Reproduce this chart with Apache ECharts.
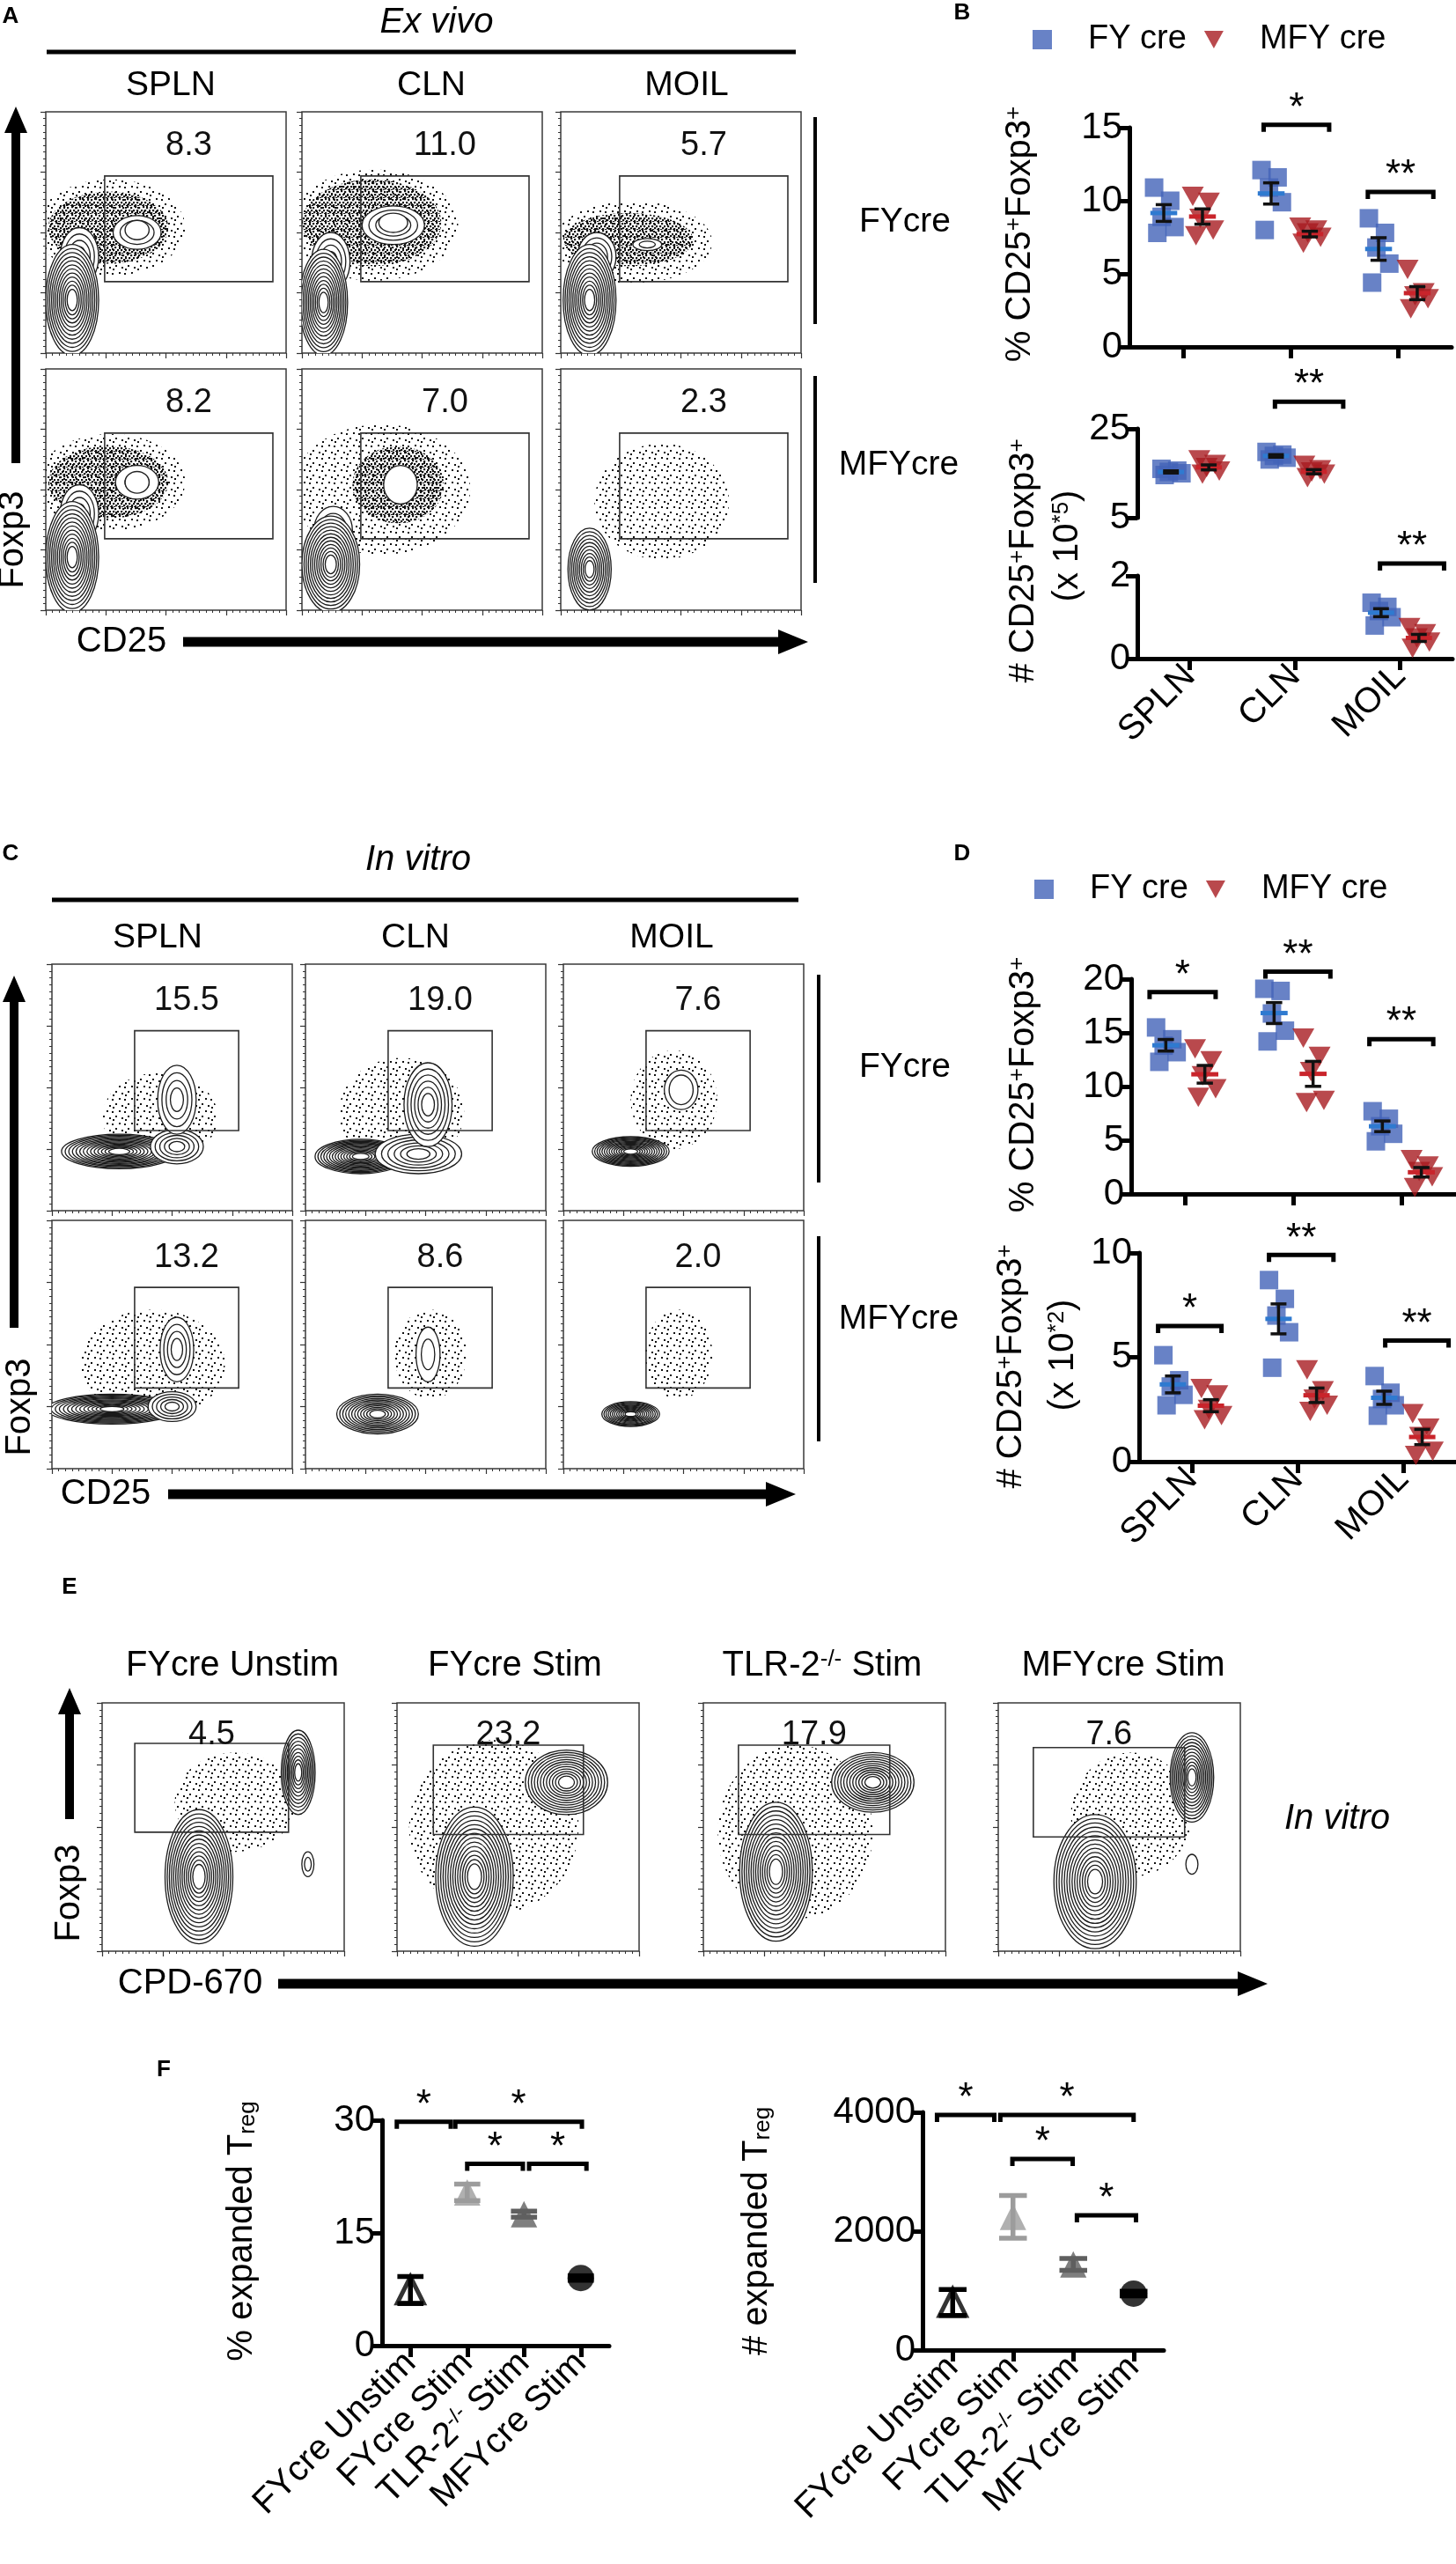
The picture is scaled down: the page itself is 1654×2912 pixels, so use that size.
<!DOCTYPE html>
<html>
<head>
<meta charset="utf-8">
<script src="https://cdn.jsdelivr.net/npm/echarts@6/dist/echarts.min.js"></script>
<style>
  html, body { margin: 0; padding: 0; background: #fff; }
  #fig { width: 1654px; height: 2912px; }
</style>
</head>
<body>
<div id="fig"></div>
<script>
// ---------- data ----------
const tissues = ['SPLN', 'CLN', 'MOIL'];
const groupNames = ['FY cre', 'MFY cre'];
const stimGroups = ['FYcre Unstim', 'FYcre Stim', 'TLR-2-/- Stim', 'MFYcre Stim'];

// B: ex vivo, % CD25+Foxp3+ (5 mice per tissue)
const exVivoPctFY = [[10.9, 10.0, 8.9, 8.2, 7.8], [12.1, 11.6, 10.9, 9.9, 8.0], [8.8, 7.8, 6.8, 5.7, 4.4]];
const exVivoPctMFY = [[10.3, 9.9, 8.8, 8.0, 7.6], [8.2, 8.0, 7.8, 7.5, 7.1], [5.3, 3.7, 3.5, 3.3, 2.6]];
// B: ex vivo, # CD25+Foxp3+ (x 10^5)
const exVivoNumFY = [[16.0, 15.6, 15.3, 15.0, 14.6], [19.8, 19.2, 18.9, 18.5, 18.1], [1.35, 1.25, 1.15, 1.0, 0.8]];
const exVivoNumMFY = [[18.0, 17.0, 16.3, 15.5, 14.8], [16.8, 15.8, 15.3, 14.8, 14.0], [0.75, 0.6, 0.5, 0.4, 0.25]];
// D: in vitro, % CD25+Foxp3+
const inVitroPctFY = [[15.5, 14.4, 13.8, 13.2, 12.3], [19.1, 18.9, 16.8, 15.2, 14.2], [7.7, 7.0, 6.3, 5.6, 4.9]];
const inVitroPctMFY = [[13.5, 12.4, 11.0, 9.8, 9.0], [14.5, 12.8, 11.4, 8.7, 8.5], [3.2, 2.6, 2.1, 1.6, 0.6]];
// D: in vitro, # CD25+Foxp3+ (x 10^2)
const inVitroNumFY = [[5.1, 3.9, 3.6, 3.2, 2.7], [8.7, 7.8, 7.0, 6.2, 4.5], [4.1, 3.3, 3.0, 2.7, 2.2]];
const inVitroNumMFY = [[3.5, 3.2, 2.5, 2.2, 2.0], [4.4, 3.4, 3.0, 2.7, 2.4], [2.3, 1.6, 1.2, 0.5, 0.3]];
// F: expanded Treg, mean and SEM
const expandedPctMean = [7.4, 20.4, 17.5, 9.0];
const expandedPctSem = [1.8, 1.1, 0.4, 0.3];
const expandedNumMean = [800, 2240, 1440, 950];
const expandedNumSem = [220, 360, 100, 40];

// significance brackets: [x from, x to, y, label] in axis units
const sigExVivoPct = [[0.75, 1.36, 15.2, '*'], [1.72, 2.33, 10.6, '**']];
const sigExVivoNumHigh = [[0.81, 1.46, 31.1, '**']];
const sigExVivoNumLow = [[1.81, 2.42, 2.3, '**']];
const sigInVitroPct = [[-0.33, 0.28, 18.8, '*'], [0.74, 1.34, 20.7, '**'], [1.70, 2.29, 14.4, '**']];
const sigInVitroNum = [[-0.32, 0.28, 6.5, '*'], [0.73, 1.34, 9.9, '**'], [1.83, 2.43, 5.8, '**']];
const sigExpandedPct = [[-0.24, 0.71, 29.8, '*'], [0.79, 3.02, 29.8, '*'], [1.0, 1.98, 24.2, '*'], [2.09, 3.1, 24.2, '*']];
const sigExpandedNum = [[-0.26, 0.69, 3955, '*'], [0.79, 3.0, 3955, '*'], [0.99, 1.99, 3214, '*'], [2.06, 3.04, 2266, '*']];

// flow plots: gate frequencies
const exVivoFreqFY = [8.3, 11.0, 5.7];
const exVivoFreqMFY = [8.2, 7.0, 2.3];
const inVitroFreqFY = [15.5, 19.0, 7.6];
const inVitroFreqMFY = [13.2, 8.6, 2.0];
const expansionFreq = [4.5, 23.2, 17.9, 7.6];

// gates [x1, y1, x2, y2] on 0-100 display scale
const exVivoGate = [24.5, 29.6, 94.5, 73.4];
const inVitroGate = [34.4, 32.5, 77.7, 73.0];
const expansionGates = [[13.5, 47.9, 77, 83.7], [15, 47, 77, 83], [14.5, 47, 77, 83], [14.5, 46, 77, 82]];

// populations [cx, cy, rx, ry, kind, contour levels]
const CONTOUR = 0, DENSE = 1, SPARSE = 2, HOLE = 3;
const exVivoFYPops = [
  [[27, 52, 31, 20, SPARSE, 0], [26, 52, 25, 15, DENSE, 0], [38, 50, 10, 7, CONTOUR, 3], [38, 51, 5, 4, HOLE, 0], [14, 40, 8, 12, CONTOUR, 4], [11, 22, 11, 23, CONTOUR, 12]],
  [[30, 53, 35, 23, SPARSE, 0], [29, 54, 29, 18, DENSE, 0], [38, 53, 13, 8, CONTOUR, 4], [38, 54, 6, 4, HOLE, 0], [12, 38, 8, 12, CONTOUR, 4], [9, 21, 10, 22, CONTOUR, 12]],
  [[30, 46, 33, 17, SPARSE, 0], [28, 47, 27, 11, DENSE, 0], [36, 45, 6, 2.5, CONTOUR, 2], [15, 40, 8, 10, CONTOUR, 4], [12, 22, 11, 23, CONTOUR, 12]]
];
const exVivoMFYPops = [
  [[27, 53, 31, 20, SPARSE, 0], [26, 53, 25, 15, DENSE, 0], [38, 53, 9, 7, CONTOUR, 2], [38, 53, 5, 4.5, HOLE, 0], [14, 40, 8, 12, CONTOUR, 4], [11, 22, 11, 23, CONTOUR, 12]],
  [[33, 50, 37, 27, SPARSE, 0], [40, 52, 19, 16, DENSE, 0], [41, 52, 7, 8, HOLE, 0], [13, 33, 8, 10, CONTOUR, 3], [12, 19, 12, 20, CONTOUR, 12]],
  [[42, 45, 28, 24, SPARSE, 0], [12, 17, 9, 17, CONTOUR, 10]]
];
const inVitroFYPops = [
  [[45, 38, 24, 18, SPARSE, 0], [28, 24, 24, 7, CONTOUR, 14], [52, 26, 11, 7, CONTOUR, 5], [52, 45, 8, 14, CONTOUR, 4]],
  [[40, 40, 26, 22, SPARSE, 0], [23, 22, 19, 7, CONTOUR, 14], [47, 23, 18, 8, CONTOUR, 6], [51, 43, 10, 17, CONTOUR, 6]],
  [[46, 45, 18, 20, SPARSE, 0], [28, 24, 16, 6, CONTOUR, 14], [49, 49, 7, 8, CONTOUR, 1], [49, 49, 5, 6, HOLE, 0]]
];
const inVitroMFYPops = [
  [[42, 42, 30, 22, SPARSE, 0], [25, 24, 27, 6, CONTOUR, 14], [50, 25, 10, 6, CONTOUR, 5], [52, 48, 7, 13, CONTOUR, 4]],
  [[52, 46, 15, 18, SPARSE, 0], [30, 22, 17, 8, CONTOUR, 12], [51, 46, 5, 11, CONTOUR, 2]],
  [[48, 46, 14, 18, SPARSE, 0], [28, 22, 12, 5, CONTOUR, 12]]
];
const expansionPops = [
  [[55, 60, 25, 20, SPARSE, 0], [81, 72, 7, 17, CONTOUR, 10], [40, 30, 14, 27, CONTOUR, 14], [85, 35, 2.5, 5, CONTOUR, 2]],
  [[40, 50, 35, 35, SPARSE, 0], [70, 68, 17, 13, CONTOUR, 12], [32, 30, 16, 28, CONTOUR, 14]],
  [[38, 48, 32, 35, SPARSE, 0], [70, 68, 17, 12, CONTOUR, 12], [30, 32, 15, 28, CONTOUR, 14]],
  [[55, 55, 25, 25, SPARSE, 0], [80, 70, 9, 18, CONTOUR, 12], [40, 28, 17, 27, CONTOUR, 14], [80, 35, 2.5, 4, CONTOUR, 1]]
];

// ---------- styles ----------
const FONT = '"Liberation Sans", Arial, Helvetica, sans-serif';
const FY_COLOR = '#4263b8', FY_MEAN = '#2f7ad0';
const MFY_COLOR = '#a81b21', MFY_MEAN = '#c9242b';
const JITTER = [-0.09, 0.06, -0.02, 0.1, -0.06];
const GROUP_SHIFT = [-0.18, 0.18];

function speckle(size, dot, dots) {
  const c = document.createElement('canvas');
  c.width = size; c.height = size;
  const g = c.getContext('2d');
  g.fillStyle = '#111';
  dots.forEach(d => g.fillRect(d[0], d[1], dot, dot));
  return c;
}
const denseTile = speckle(9, 2.2, [[0, 0], [4, 1], [7, 4], [2, 4], [5, 6], [0, 7], [8, 8], [3, 8]]);
const sparseTile = speckle(14, 2, [[1, 2], [9, 1], [5, 7], [12, 9], [2, 11]]);

const mean = a => a.reduce((s, v) => s + v, 0) / a.length;
const sem = a => {
  const m = mean(a);
  return Math.sqrt(a.reduce((s, v) => s + (v - m) * (v - m), 0) / (a.length - 1) / a.length);
};

// ---------- renderers ----------
function drawPopulation(params, api) {
  const c = api.coord([api.value(0), api.value(1)]);
  const s = api.size([api.value(2), api.value(3)]);
  const kind = api.value(4), rings = api.value(5);
  const children = [];
  if (kind === DENSE || kind === SPARSE) {
    children.push({
      type: 'ellipse', shape: { cx: c[0], cy: c[1], rx: s[0], ry: s[1] },
      style: { fill: { image: kind === DENSE ? denseTile : sparseTile, repeat: 'repeat' }, stroke: null }
    });
  } else if (kind === HOLE) {
    children.push({
      type: 'ellipse', shape: { cx: c[0], cy: c[1], rx: s[0], ry: s[1] },
      style: { fill: '#fff', stroke: '#222', lineWidth: 1.4 }
    });
  } else {
    for (let i = 0; i < rings; i++) {
      const f = 1 - i * 0.88 / rings;
      children.push({
        type: 'ellipse', shape: { cx: c[0], cy: c[1], rx: s[0] * f, ry: s[1] * f },
        style: { fill: i === 0 ? '#fff' : 'none', stroke: '#1a1a1a', lineWidth: 1.3 }
      });
    }
  }
  return { type: 'group', children };
}

function drawGate(params, api) {
  const p1 = api.coord([api.value(0), api.value(3)]);
  const p2 = api.coord([api.value(2), api.value(1)]);
  const lab = api.coord([(api.value(0) + api.value(2)) / 2, api.value(5)]);
  return {
    type: 'group', children: [
      { type: 'rect', shape: { x: p1[0], y: p1[1], width: p2[0] - p1[0], height: p2[1] - p1[1] },
        style: { fill: 'none', stroke: '#333', lineWidth: 1.6 } },
      { type: 'text', x: lab[0], y: lab[1],
        style: { text: api.value(4).toFixed(1), fontSize: 38, fontFamily: FONT, fill: '#111', align: 'center', verticalAlign: 'middle' } }
    ]
  };
}

function drawMeanSem(color) {
  return function (params, api) {
    const x = api.value(0), m = api.value(1), s = api.value(2);
    const pm = api.coord([x, m]), pt = api.coord([x, m + s]), pb = api.coord([x, m - s]);
    const hw = api.size([0.125, 0])[0], cw = api.size([0.075, 0])[0];
    const line = (x1, y1, x2, y2, col, w) => ({ type: 'line', shape: { x1, y1, x2, y2 }, style: { stroke: col, lineWidth: w } });
    return {
      type: 'group', children: [
        line(pm[0] - hw, pm[1], pm[0] + hw, pm[1], color, 5),
        line(pt[0], pt[1], pb[0], pb[1], '#111', 3.5),
        line(pt[0] - cw, pt[1], pt[0] + cw, pt[1], '#111', 3.5),
        line(pb[0] - cw, pb[1], pb[0] + cw, pb[1], '#111', 3.5)
      ]
    };
  };
}

function drawErrorBar(colors) {
  return function (params, api) {
    const x = api.value(0), m = api.value(1), s = api.value(2);
    const pt = api.coord([x, m + s]), pb = api.coord([x, m - s]);
    const cw = api.size([0.23, 0])[0];
    const col = colors[params.dataIndex];
    const line = (x1, y1, x2, y2) => ({ type: 'line', shape: { x1, y1, x2, y2 }, style: { stroke: col, lineWidth: 5.5 } });
    return {
      type: 'group', children: [
        line(pt[0], pt[1], pb[0], pb[1]),
        line(pt[0] - cw, pt[1], pt[0] + cw, pt[1]),
        line(pb[0] - cw, pb[1], pb[0] + cw, pb[1])
      ]
    };
  };
}

function drawBracket(sig, size) {
  return function (params, api) {
    const a = api.coord([api.value(0), api.value(2)]);
    const b = api.coord([api.value(1), api.value(2)]);
    const drop = 8;
    return {
      type: 'group', children: [
        { type: 'polyline', shape: { points: [[a[0], a[1] + drop], [a[0], a[1]], [b[0], b[1]], [b[0], b[1] + drop]] },
          style: { fill: 'none', stroke: '#000', lineWidth: 5 } },
        { type: 'text', x: (a[0] + b[0]) / 2, y: a[1] + 4,
          style: { text: sig[params.dataIndex][3], fontSize: size, fontFamily: FONT, fill: '#000', align: 'center', verticalAlign: 'bottom' } }
      ]
    };
  };
}

// ---------- option assembly ----------
const option = { animation: false, backgroundColor: '#fff', grid: [], xAxis: [], yAxis: [], series: [], graphic: [], legend: [] };

function flowAxis(gi) {
  return {
    gridIndex: gi, type: 'value', min: 0, max: 100, interval: 25,
    axisLine: { show: false },
    axisTick: { show: true, length: 6, lineStyle: { color: '#333', width: 1.2 } },
    minorTick: { show: true, splitNumber: 9, length: 3, lineStyle: { color: '#333', width: 1 } },
    axisLabel: { show: false }, splitLine: { show: false }, minorSplitLine: { show: false }
  };
}

function addFlow(box, pops, gate, freq, labelY) {
  const gi = option.grid.length;
  option.grid.push({ left: box[0], top: box[1], width: box[2], height: box[3], show: true, borderColor: '#3a3a3a', borderWidth: 1.5 });
  option.xAxis.push(flowAxis(gi));
  option.yAxis.push(flowAxis(gi));
  option.series.push({ type: 'custom', xAxisIndex: gi, yAxisIndex: gi, clip: true, silent: true, z: 2, data: pops, renderItem: drawPopulation });
  option.series.push({ type: 'custom', xAxisIndex: gi, yAxisIndex: gi, silent: true, z: 3, data: [gate.concat([freq, labelY])], renderItem: drawGate });
}

[52, 343, 637].forEach((left, c) => {
  addFlow([left, 127, 273, 274], exVivoFYPops[c], exVivoGate, exVivoFreqFY[c], 86);
  addFlow([left, 419, 273, 274], exVivoMFYPops[c], exVivoGate, exVivoFreqMFY[c], 86);
});
[59, 347, 640].forEach((left, c) => {
  addFlow([left, 1095, 273, 280], inVitroFYPops[c], inVitroGate, inVitroFreqFY[c], 85);
  addFlow([left, 1386, 273, 282], inVitroMFYPops[c], inVitroGate, inVitroFreqMFY[c], 85);
});
[116, 451, 799, 1134].forEach((left, i) => {
  addFlow([left, 1934, 275, 282], expansionPops[i], expansionGates[i], expansionFreq[i], 87);
});

const supRich = {
  n: { fontSize: 40, lineHeight: 40, fontFamily: FONT, color: '#000', verticalAlign: 'middle' },
  s: { fontSize: 24, lineHeight: 16, fontFamily: FONT, color: '#000', verticalAlign: 'top' }
};
function supLabel(name) {
  const k = name.indexOf('-/-');
  if (k < 0) return '{n|' + name + '}';
  return '{n|' + name.slice(0, k) + '}{s|-/-}{n|' + name.slice(k + 3) + '}';
}

function statY(gi, min, max, extra) {
  return Object.assign({
    gridIndex: gi, type: 'value', min, max,
    axisLine: { show: true, onZero: false, lineStyle: { color: '#000', width: 5 } },
    axisTick: { show: true, length: 13, lineStyle: { color: '#000', width: 5 } },
    axisLabel: { color: '#000', fontSize: 42, fontFamily: FONT, margin: 8, formatter: v => String(v) },
    splitLine: { show: false }
  }, extra);
}

function statX(gi, names, showAxis, showLabels) {
  const idx = names.map((n, i) => i);
  return {
    gridIndex: gi, type: 'value', min: -0.5, max: names.length - 0.5, show: showAxis,
    axisLine: { show: true, onZero: false, lineStyle: { color: '#000', width: 5 } },
    axisTick: { show: true, customValues: idx, length: 13, lineStyle: { color: '#000', width: 5 } },
    axisLabel: {
      show: showLabels, customValues: idx, rotate: 45, margin: 14, color: '#000', fontSize: 38, fontFamily: FONT,
      formatter: v => supLabel(names[Math.round(v)]), rich: supRich
    },
    splitLine: { show: false }
  };
}

function addStatGrid(box, yAx, names, showAxis, showLabels) {
  const gi = option.grid.length;
  option.grid.push({ left: box[0], top: box[1], width: box[2], height: box[3] });
  option.xAxis.push(statX(gi, names, showAxis, showLabels));
  option.yAxis.push(Object.assign(yAx, { gridIndex: gi }));
  return gi;
}

function dots(values, g) {
  const out = [];
  values.forEach((arr, c) => arr.forEach((v, j) => out.push([c + GROUP_SHIFT[g] + JITTER[j], v])));
  return out;
}
function summary(values, g) {
  return values.map((arr, c) => [c + GROUP_SHIFT[g], mean(arr), sem(arr)]);
}

function addGroups(gi, fy, mfy) {
  option.series.push({ type: 'scatter', name: groupNames[0], xAxisIndex: gi, yAxisIndex: gi, clip: true, z: 3,
    symbol: 'rect', symbolSize: 21, itemStyle: { color: FY_COLOR }, data: dots(fy, 0) });
  option.series.push({ type: 'scatter', name: groupNames[1], xAxisIndex: gi, yAxisIndex: gi, clip: true, z: 3,
    symbol: 'triangle', symbolRotate: 180, symbolSize: [25, 22], itemStyle: { color: MFY_COLOR }, data: dots(mfy, 1) });
  option.series.push({ type: 'custom', xAxisIndex: gi, yAxisIndex: gi, clip: true, z: 4, silent: true,
    data: summary(fy, 0), renderItem: drawMeanSem(FY_MEAN) });
  option.series.push({ type: 'custom', xAxisIndex: gi, yAxisIndex: gi, clip: true, z: 4, silent: true,
    data: summary(mfy, 1), renderItem: drawMeanSem(MFY_MEAN) });
}
function addSig(gi, sig, size) {
  option.series.push({ type: 'custom', xAxisIndex: gi, yAxisIndex: gi, clip: false, z: 5, silent: true,
    data: sig.map(s => [s[0], s[1], s[2]]), renderItem: drawBracket(sig, size) });
}

// B
let gi = addStatGrid([1283, 145, 366, 249], statY(0, 0, 15, { interval: 5 }), tissues, true, false);
addGroups(gi, exVivoPctFY, exVivoPctMFY);
addSig(gi, sigExVivoPct, 44);
gi = addStatGrid([1292, 487, 358, 101], statY(0, 5, 25, {
  axisTick: { show: true, customValues: [5, 25], length: 13, lineStyle: { color: '#000', width: 5 } },
  axisLabel: { customValues: [5, 25], color: '#000', fontSize: 42, fontFamily: FONT, margin: 8 }
}), tissues, false, false);
addGroups(gi, exVivoNumFY, exVivoNumMFY);
addSig(gi, sigExVivoNumHigh, 44);
gi = addStatGrid([1292, 654, 358, 94], statY(0, 0, 2, { interval: 2 }), tissues, true, true);
addGroups(gi, exVivoNumFY, exVivoNumMFY);
addSig(gi, sigExVivoNumLow, 44);

// D
gi = addStatGrid([1285, 1112, 369, 244], statY(0, 0, 20, { interval: 5 }), tissues, true, false);
addGroups(gi, inVitroPctFY, inVitroPctMFY);
addSig(gi, sigInVitroPct, 44);
gi = addStatGrid([1294, 1423, 360, 237], statY(0, 0, 10, { interval: 5 }), tissues, true, true);
addGroups(gi, inVitroNumFY, inVitroNumMFY);
addSig(gi, sigInVitroNum, 44);

// F
const markerStyles = [
  { symbol: 'triangle', itemStyle: { color: '#fff', borderColor: '#000', borderWidth: 5 } },
  { symbol: 'triangle', itemStyle: { color: '#9c9c9c' } },
  { symbol: 'triangle', itemStyle: { color: '#5f5f5f' } },
  { symbol: 'circle', itemStyle: { color: '#000' } }
];
const barColors = ['#000', '#9c9c9c', '#5f5f5f', '#000'];
function addExpansion(box, yAx, means, sems, sig) {
  const g = addStatGrid(box, yAx, stimGroups, true, true);
  option.xAxis[g].axisLabel.fontSize = 40;
  option.series.push({ type: 'scatter', xAxisIndex: g, yAxisIndex: g, z: 3, symbolSize: 30,
    data: means.map((m, i) => Object.assign({ value: [i, m] }, markerStyles[i])) });
  option.series.push({ type: 'custom', xAxisIndex: g, yAxisIndex: g, z: 4, silent: true,
    data: means.map((m, i) => [i, m, sems[i]]), renderItem: drawErrorBar(barColors) });
  addSig(g, sig, 44);
}
addExpansion([434, 2408, 258, 256], statY(0, 0, 30, { interval: 15 }), expandedPctMean, expandedPctSem, sigExpandedPct);
addExpansion([1048, 2399, 274, 270], statY(0, 0, 4000, { interval: 2000 }), expandedNumMean, expandedNumSem, sigExpandedNum);

// legends for B and D
const legendBase = {
  orient: 'horizontal', itemWidth: 22, itemHeight: 22, itemGap: 20, selectedMode: false,
  textStyle: { fontSize: 38, fontFamily: FONT, color: '#000', padding: [0, 0, 0, 36] },
  data: [{ name: groupNames[0], icon: 'rect' }, { name: groupNames[1], icon: 'path://M0,0L20,0L10,18Z' }]
};
option.legend.push(Object.assign({ left: 1168, top: 21 }, legendBase));
option.legend.push(Object.assign({ left: 1170, top: 986 }, legendBase));

// ---------- decorations (text, lines, arrows) ----------
function text(x, y, str, size, style, extra) {
  return Object.assign({
    type: 'text', x, y, silent: true,
    style: Object.assign({ text: str, fontSize: size, fontFamily: FONT, fill: '#000', align: 'center', verticalAlign: 'middle' }, style)
  }, extra);
}
function vtext(x, y, str, rich) {
  return text(x, y, str, 40, { rich }, { rotation: Math.PI / 2 });
}
function hline(x1, x2, y, w) {
  return { type: 'line', silent: true, shape: { x1, y1: y, x2, y2: y }, style: { stroke: '#000', lineWidth: w } };
}
function vline(x, y1, y2, w) {
  return { type: 'line', silent: true, shape: { x1: x, y1, x2: x, y2 }, style: { stroke: '#000', lineWidth: w } };
}
function arrowUp(x, tip, bottom) {
  const w = 10, hw = 26, hh = 30;
  return { type: 'polygon', silent: true, style: { fill: '#000' }, shape: { points: [
    [x - w / 2, bottom], [x + w / 2, bottom], [x + w / 2, tip + hh], [x + hw / 2, tip + hh], [x, tip],
    [x - hw / 2, tip + hh], [x - w / 2, tip + hh]] } };
}
function arrowRight(left, tip, y) {
  const w = 11, hw = 28, hh = 34;
  return { type: 'polygon', silent: true, style: { fill: '#000' }, shape: { points: [
    [left, y - w / 2], [tip - hh, y - w / 2], [tip - hh, y - hw / 2], [tip, y], [tip - hh, y + hw / 2],
    [tip - hh, y + w / 2], [left, y + w / 2]] } };
}

const bold = { fontWeight: 'bold' };
const italic = { fontStyle: 'italic' };
const labRich = {
  n: { fontSize: 40, lineHeight: 40, fontFamily: FONT, color: '#000', verticalAlign: 'middle' },
  s: { fontSize: 26, lineHeight: 18, fontFamily: FONT, color: '#000', verticalAlign: 'top' },
  b: { fontSize: 26, lineHeight: 14, fontFamily: FONT, color: '#000', verticalAlign: 'bottom' }
};
const cd25Pct = '{n|% CD25}{s|+}{n|Foxp3}{s|+}';
const cd25Num = '{n|# CD25}{s|+}{n|Foxp3}{s|+}';

const G = option.graphic;
// A
G.push(text(12, 19, 'A', 26, bold));
G.push(text(496, 26, 'Ex vivo', 40, italic));
G.push(hline(53, 904, 59, 5));
G.push(text(194, 97, tissues[0], 39), text(490, 97, tissues[1], 39), text(780, 97, tissues[2], 39));
G.push(vline(926, 133, 368, 4), text(1028, 252, 'FYcre', 39));
G.push(vline(926, 427, 662, 4), text(1021, 528, 'MFYcre', 39));
G.push(arrowUp(18, 121, 526), text(15, 613, 'Foxp3', 40, {}, { rotation: Math.PI / 2 }));
G.push(text(138, 729, 'CD25', 40), arrowRight(208, 918, 729));
// B
G.push(text(1093, 15, 'B', 26, bold));
G.push(vtext(1159, 266, cd25Pct, labRich));
G.push(vtext(1163, 637, cd25Num, labRich));
G.push(vtext(1213, 620, '{n|(x 10}{s|*5}{n|)}', labRich));
// C
G.push(text(12, 970, 'C', 26, bold));
G.push(text(475, 977, 'In vitro', 40, italic));
G.push(hline(59, 907, 1022, 5));
G.push(text(179, 1065, tissues[0], 39), text(472, 1065, tissues[1], 39), text(763, 1065, tissues[2], 39));
G.push(vline(930, 1107, 1343, 4), text(1028, 1212, 'FYcre', 39));
G.push(vline(930, 1404, 1637, 4), text(1021, 1498, 'MFYcre', 39));
G.push(arrowUp(16, 1108, 1508), text(23, 1598, 'Foxp3', 40, {}, { rotation: Math.PI / 2 }));
G.push(text(120, 1697, 'CD25', 40), arrowRight(191, 904, 1697));
// D
G.push(text(1093, 970, 'D', 26, bold));
G.push(vtext(1163, 1232, cd25Pct, labRich));
G.push(vtext(1149, 1552, cd25Num, labRich));
G.push(vtext(1208, 1539, '{n|(x 10}{s|*2}{n|)}', labRich));
// E
G.push(text(79, 1803, 'E', 26, bold));
[264, 585, 934, 1276].forEach((x, i) => G.push(text(x, 1892, supLabel(stimGroups[i]), 40, { rich: labRich })));
G.push(arrowUp(79, 1917, 2066), text(79, 2150, 'Foxp3', 40, {}, { rotation: Math.PI / 2 }));
G.push(text(216, 2253, 'CPD-670', 40), arrowRight(316, 1440, 2253));
G.push(text(1519, 2066, 'In vitro', 40, italic));
// F
G.push(text(186, 2351, 'F', 26, bold));
G.push(vtext(275, 2534, '{n|% expanded T}{b|reg}', labRich));
G.push(vtext(860, 2534, '{n|# expanded T}{b|reg}', labRich));

const chart = echarts.init(document.getElementById('fig'), null, { renderer: 'canvas', width: 1654, height: 2912 });
chart.setOption(option);

window.addEventListener('resize', () => {
  chart.resize();
});
</script>
</body>
</html>
